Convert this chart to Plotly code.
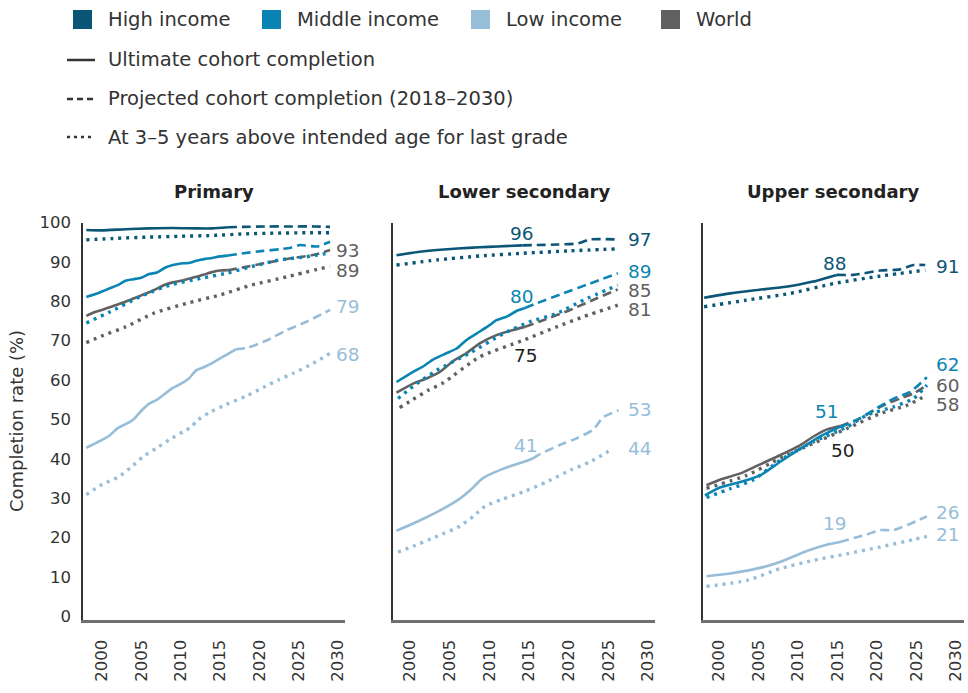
import plotly.graph_objects as go

W, H = 968, 693
FONT = "DejaVu Sans"

# ---------------- data ----------------
panels = ["Primary", "Lower secondary", "Upper secondary"]
groups = ["High income", "Middle income", "Low income", "World"]
colors = {"High income": "#0b5576", "Middle income": "#0a85b3",
          "Low income": "#97bdd9", "World": "#616161"}

# Primary
p_hi_solid_x = [1998, 2000, 2003, 2006, 2009, 2012, 2014, 2016]
p_hi_solid_y = [98.1, 98.0, 98.3, 98.5, 98.6, 98.5, 98.5, 98.8]
p_hi_dash_x = [2016, 2018, 2021, 2024, 2027, 2029]
p_hi_dash_y = [98.8, 98.9, 99.0, 99.0, 99.0, 98.9]
p_hi_dot_x = [1998, 2002, 2006, 2010, 2014, 2018, 2022, 2026, 2029]
p_hi_dot_y = [95.6, 96.0, 96.3, 96.5, 96.7, 97.1, 97.3, 97.4, 97.4]

p_mi_solid_x = [1998, 1999, 2000, 2001, 2002, 2003, 2004, 2005, 2006, 2007, 2008, 2009, 2010, 2011, 2012, 2013, 2014, 2015, 2016]
p_mi_solid_y = [81.1, 81.7, 82.5, 83.3, 84.1, 85.2, 85.6, 86.0, 86.9, 87.3, 88.5, 89.2, 89.6, 89.7, 90.3, 90.7, 91.0, 91.4, 91.6]
p_mi_dash_x = [2016, 2018, 2020.5, 2022.6, 2024, 2025.2, 2027.3, 2029]
p_mi_dash_y = [91.6, 92.2, 92.8, 93.2, 93.6, 94.3, 93.9, 95.1]
p_mi_dot_x = [1998, 2001, 2005, 2008.6, 2012.5, 2016, 2019, 2022.6, 2026, 2029]
p_mi_dot_y = [74.5, 77.3, 81.3, 84.1, 85.8, 87.2, 88.8, 90.5, 91.3, 92.3]

p_lo_solid_x = [1998, 1999, 2000, 2001, 2002, 2003, 2004, 2005, 2006, 2007, 2008, 2009, 2010, 2011, 2012, 2013, 2014, 2015, 2016, 2017]
p_lo_solid_y = [42.8, 43.8, 44.8, 46.0, 47.8, 48.8, 50.0, 52.2, 54.0, 55.0, 56.5, 58.0, 59.0, 60.3, 62.5, 63.3, 64.3, 65.5, 66.6, 67.8]
p_lo_dash_x = [2017, 2018.5, 2021, 2023.5, 2026, 2029]
p_lo_dash_y = [67.8, 68.2, 70.1, 72.7, 74.8, 77.8]
p_lo_dot_x = [1998, 2000, 2002, 2003.6, 2005.2, 2007, 2008.6, 2010.5, 2011.4, 2012, 2013.7, 2015.8, 2018.4, 2020.5, 2022.4, 2024.3, 2026.8, 2029]
p_lo_dot_y = [30.9, 33.5, 35.3, 37.7, 40.5, 42.8, 44.9, 47.1, 48.1, 49.6, 51.8, 53.8, 56.0, 58.1, 60.0, 61.7, 64.2, 66.8]

p_wo_solid_x = [1998, 1999, 2000, 2001, 2002, 2003, 2004, 2005, 2006, 2007, 2008, 2009, 2010, 2011, 2012, 2013, 2014, 2015, 2016]
p_wo_solid_y = [76.3, 77.2, 77.8, 78.5, 79.2, 79.9, 80.7, 81.5, 82.3, 83.2, 84.2, 84.8, 85.2, 85.7, 86.2, 86.8, 87.4, 87.8, 87.9]
p_wo_dash_x = [2016, 2018, 2021, 2024, 2027, 2029]
p_wo_dash_y = [87.9, 88.6, 89.8, 90.9, 91.8, 93.0]
p_wo_dot_x = [1998, 2000, 2003, 2006.5, 2010.8, 2015, 2019, 2023.5, 2029]
p_wo_dot_y = [69.5, 71.2, 73.5, 76.9, 79.5, 81.6, 84.1, 86.2, 88.9]

# Lower secondary
l_hi_solid_x = [1998.3, 2001, 2003.4, 2006, 2008.8, 2011, 2014.2]
l_hi_solid_y = [91.7, 92.5, 93.0, 93.4, 93.7, 93.9, 94.2]
l_hi_dash_x = [2014.2, 2018.5, 2021.2, 2022.7, 2026.2]
l_hi_dash_y = [94.2, 94.4, 94.7, 95.7, 95.7]
l_hi_dot_x = [1998.3, 2003.4, 2008.8, 2014.3, 2020.2, 2026]
l_hi_dot_y = [89.2, 90.5, 91.5, 92.2, 92.8, 93.3]

l_mi_solid_x = [1998.3, 2000.4, 2001.7, 2002.9, 2004.6, 2005.9, 2007.1, 2008.4, 2010.1, 2010.9, 2012.2, 2013.5, 2014.5]
l_mi_solid_y = [59.5, 62.1, 63.5, 65.2, 66.8, 68.0, 70.1, 71.8, 74.0, 75.2, 76.1, 77.6, 78.3]
l_mi_dash_x = [2014.5, 2016, 2019.3, 2022.7, 2026.2]
l_mi_dash_y = [78.3, 79.5, 82.0, 84.5, 87.1]
l_mi_dot_x = [1998.5, 2000.4, 2003.4, 2007.6, 2011.8, 2015.1, 2018.5, 2021.9, 2026.2]
l_mi_dot_y = [55.3, 58.4, 62.5, 66.9, 71.8, 74.8, 76.9, 80.3, 84.1]

l_lo_solid_x = [1998.3, 2001.3, 2003.8, 2006.3, 2007.6, 2009.2, 2011.8, 2014.3, 2015.5]
l_lo_solid_y = [21.7, 24.4, 26.9, 29.9, 32.0, 35.1, 37.5, 39.2, 40.1]
l_lo_dash_x = [2015.5, 2016.4, 2018.9, 2021, 2023.1, 2024.4, 2026.3]
l_lo_dash_y = [40.1, 41.2, 43.5, 45.2, 47.4, 50.6, 52.3]
l_lo_dot_x = [1998.5, 2000.4, 2003.4, 2006.3, 2008, 2009.5, 2011.6, 2014.3, 2017.2, 2020.2, 2022.7, 2025.6]
l_lo_dot_y = [16.3, 17.8, 20.3, 22.9, 25.4, 28.0, 29.7, 31.6, 34.1, 37.1, 39.2, 42.6]

l_wo_solid_x = [1998.3, 2000.4, 2002.1, 2003.8, 2005.5, 2007.1, 2008.8, 2010.9, 2013, 2014.5]
l_wo_solid_y = [56.8, 59.1, 60.4, 62.1, 64.9, 66.8, 69.3, 71.4, 72.7, 73.5]
l_wo_dash_x = [2014.5, 2016.8, 2020.2, 2023.5, 2026.2]
l_wo_dash_y = [73.5, 75.2, 77.8, 80.7, 83.0]
l_wo_dot_x = [1998.7, 2000.4, 2002.3, 2004.2, 2008.8, 2014.3, 2018.5, 2021.9, 2026.2]
l_wo_dot_y = [53.0, 55.1, 57.4, 59.3, 65.9, 70.1, 73.5, 76.1, 79.0]

# Upper secondary
u_hi_solid_x = [1998.1, 2001.4, 2004.5, 2007.7, 2010, 2011.9, 2014.9]
u_hi_solid_y = [80.9, 82.0, 82.8, 83.5, 84.2, 85.0, 86.7]
u_hi_dash_x = [2014.9, 2017, 2020.4, 2022.9, 2024.6, 2026.1]
u_hi_dash_y = [86.7, 86.7, 87.8, 88.1, 89.2, 89.2]
u_hi_dot_x = [1998.1, 2003.5, 2009, 2014.5, 2020.4, 2026.1]
u_hi_dot_y = [78.6, 80.3, 82.0, 84.5, 86.4, 87.9]

u_mi_solid_x = [1998.2, 2000.1, 2002.7, 2005.2, 2007.7, 2010.3, 2012.8, 2015.3]
u_mi_solid_y = [30.7, 32.7, 34.1, 35.8, 39.2, 42.6, 45.7, 48.1]
u_mi_dash_x = [2015.3, 2017, 2019.5, 2022.1, 2024.2, 2026.3]
u_mi_dash_y = [48.1, 49.4, 52.3, 55.3, 57.0, 60.7]
u_mi_dot_x = [1998.4, 2001.4, 2004.3, 2007.7, 2011.9, 2016.2, 2018.7, 2022.1, 2024.6, 2026.3]
u_mi_dot_y = [30.2, 32.4, 34.6, 39.6, 44.3, 48.1, 51.1, 53.2, 55.3, 58.7]

u_lo_solid_x = [1998.4, 2001.4, 2005.6, 2007.7, 2011.1, 2013.6, 2015.3]
u_lo_solid_y = [10.2, 10.9, 12.5, 13.8, 16.6, 18.2, 18.9]
u_lo_dash_x = [2015.3, 2018.7, 2020.4, 2022.1, 2026.3]
u_lo_dash_y = [18.9, 20.8, 21.9, 21.9, 25.4]
u_lo_dot_x = [1998.4, 2003.5, 2007.7, 2011.9, 2016.2, 2020.4, 2024.6, 2026.3]
u_lo_dot_y = [7.6, 9.1, 12.1, 14.2, 15.9, 17.6, 19.5, 20.3]

u_wo_solid_x = [1998.4, 2000.1, 2002.7, 2005.2, 2007.7, 2010.3, 2011.9, 2013.6, 2015.3]
u_wo_solid_y = [33.3, 34.7, 36.3, 38.6, 40.9, 43.5, 45.6, 47.4, 48.3]
u_wo_dash_x = [2015.3, 2017.8, 2020.4, 2022.9, 2024.6, 2026.3]
u_wo_dash_y = [48.3, 50.2, 53.2, 55.3, 56.6, 58.7]
u_wo_dot_x = [1998.4, 2003.5, 2007.7, 2011.9, 2016.2, 2020.4, 2023.8, 2026.3]
u_wo_dot_y = [32.5, 35.8, 40.1, 43.9, 47.7, 51.5, 53.6, 56.2]

# Value labels
label_panel = [0, 0, 0, 0,
               1, 1, 1, 1, 1, 1, 1, 1, 1, 1,
               2, 2, 2, 2, 2, 2, 2, 2, 2, 2]
label_text = ["93", "89", "79", "68",
              "96", "97", "80", "89", "75", "85", "81", "41", "53", "44",
              "88", "91", "51", "62", "50", "60", "58", "19", "26", "21"]
label_x = [2029.5, 2029.5, 2029.5, 2029.5,
           2014.1, 2027.2, 2014.1, 2027.2, 2014.6, 2027.2, 2027.2, 2014.6, 2027.2, 2027.2,
           2014.7, 2027.2, 2013.6, 2027.2, 2015.7, 2027.2, 2027.2, 2014.7, 2027.2, 2027.2]
label_y = [93.0, 87.9, 78.8, 66.4,
           97.3, 95.7, 81.3, 87.5, 66.3, 82.7, 77.8, 43.5, 52.5, 42.6,
           89.5, 88.8, 51.9, 64.0, 42.2, 58.6, 53.8, 23.6, 26.3, 20.8]
label_group = ["World", "World", "Low income", "Low income",
               "High income", "High income", "Middle income", "Middle income", "Dark", "World", "World",
               "Low income", "Low income", "Low income",
               "High income", "High income", "Middle income", "Middle income", "Dark", "World", "World",
               "Low income", "Low income", "Low income"]
label_anchor = ["left", "left", "left", "left",
                "center", "left", "center", "left", "center", "left", "left", "center", "left", "left",
                "center", "left", "center", "left", "center", "left", "left", "center", "left", "left"]

x_ticks = [2000, 2005, 2010, 2015, 2020, 2025, 2030]
y_ticks = [0, 10, 20, 30, 40, 50, 60, 70, 80, 90, 100]

series = {
    0: {"High income": (p_hi_solid_x, p_hi_solid_y, p_hi_dash_x, p_hi_dash_y, p_hi_dot_x, p_hi_dot_y),
        "Middle income": (p_mi_solid_x, p_mi_solid_y, p_mi_dash_x, p_mi_dash_y, p_mi_dot_x, p_mi_dot_y),
        "Low income": (p_lo_solid_x, p_lo_solid_y, p_lo_dash_x, p_lo_dash_y, p_lo_dot_x, p_lo_dot_y),
        "World": (p_wo_solid_x, p_wo_solid_y, p_wo_dash_x, p_wo_dash_y, p_wo_dot_x, p_wo_dot_y)},
    1: {"High income": (l_hi_solid_x, l_hi_solid_y, l_hi_dash_x, l_hi_dash_y, l_hi_dot_x, l_hi_dot_y),
        "Middle income": (l_mi_solid_x, l_mi_solid_y, l_mi_dash_x, l_mi_dash_y, l_mi_dot_x, l_mi_dot_y),
        "Low income": (l_lo_solid_x, l_lo_solid_y, l_lo_dash_x, l_lo_dash_y, l_lo_dot_x, l_lo_dot_y),
        "World": (l_wo_solid_x, l_wo_solid_y, l_wo_dash_x, l_wo_dash_y, l_wo_dot_x, l_wo_dot_y)},
    2: {"High income": (u_hi_solid_x, u_hi_solid_y, u_hi_dash_x, u_hi_dash_y, u_hi_dot_x, u_hi_dot_y),
        "Middle income": (u_mi_solid_x, u_mi_solid_y, u_mi_dash_x, u_mi_dash_y, u_mi_dot_x, u_mi_dot_y),
        "Low income": (u_lo_solid_x, u_lo_solid_y, u_lo_dash_x, u_lo_dash_y, u_lo_dot_x, u_lo_dot_y),
        "World": (u_wo_solid_x, u_wo_solid_y, u_wo_dash_x, u_wo_dash_y, u_wo_dot_x, u_wo_dot_y)},
}

# ---------------- layout geometry (pixels) ----------------
def px(x):
    return x / W

def py(y):
    return 1 - y / H

x_doms = [(83, 345), (392.5, 655), (702.5, 964)]
x_ranges = [(1997.58, 2030.9), (1997.8, 2030.9), (1997.9, 2031.0)]
y_top, y_bot = 222.5, 619.5

fig = go.Figure()
draw_order = ["World", "Low income", "Middle income", "High income"]
for p in range(3):
    ax = "" if p == 0 else str(p + 1)
    for g in draw_order:
        sx, sy, dx, dy, tx, ty = series[p][g]
        c = colors[g]
        common = dict(xaxis="x" + ax, yaxis="y" + ax, mode="lines", showlegend=False,
                      hoverinfo="skip")
        fig.add_trace(go.Scatter(x=tx, y=ty, line=dict(color=c, width=3.4, dash="3px,5px",
                                 shape="spline", smoothing=0.6), **common))
        fig.add_trace(go.Scatter(x=dx, y=dy, line=dict(color=c, width=2.6, dash="9px,5px",
                                 shape="spline", smoothing=0.6), **common))
        fig.add_trace(go.Scatter(x=sx, y=sy, line=dict(color=c, width=2.6,
                                 shape="spline", smoothing=0.6), **common))

layout = dict(
    template="none",
    width=W, height=H, margin=dict(l=0, r=0, t=0, b=0, pad=0),
    paper_bgcolor="white", plot_bgcolor="white",
    font=dict(family=FONT, color="#333333", size=17),
    showlegend=False,
)
for p in range(3):
    ax = "" if p == 0 else str(p + 1)
    layout["xaxis" + ax] = dict(
        domain=[px(x_doms[p][0]), px(x_doms[p][1])], range=list(x_ranges[p]),
        anchor="y" + ax, tickmode="array", tickvals=x_ticks,
        ticktext=[str(t) for t in x_ticks], tickangle=-90,
        showgrid=False, zeroline=False, showline=True, linecolor="#6e6e6e", linewidth=2.5,
        ticks="", ticklen=0, ticklabelstandoff=11, automargin=False,
        tickfont=dict(family=FONT, size=16.5, color="#333333"),
        fixedrange=True,
    )
    layout["yaxis" + ax] = dict(
        domain=[py(y_bot), py(y_top)], range=[-0.8, 100], anchor="x" + ax,
        tickmode="array", tickvals=y_ticks, showticklabels=(p == 0),
        showgrid=False, zeroline=False, showline=True, linecolor="#333333", linewidth=1.5,
        ticks="", ticklen=0, ticklabelstandoff=7, automargin=False,
        tickfont=dict(family=FONT, size=16.5, color="#333333"),
        fixedrange=True,
    )
layout["yaxis"]["title"] = dict(text="Completion rate (%)",
                                font=dict(family=FONT, size=18, color="#333333"),
                                standoff=11)
fig.update_layout(**layout)

annotations = []
for p, name in enumerate(panels):
    annotations.append(dict(text="<b>" + name + "</b>", xref="paper", yref="paper",
                            x=px((x_doms[p][0] + x_doms[p][1]) / 2), y=py(192),
                            xanchor="center", yanchor="middle", showarrow=False,
                            font=dict(family=FONT, size=18, color="#222222")))
for i in range(len(label_text)):
    p = label_panel[i]
    ax = "" if p == 0 else str(p + 1)
    g = label_group[i]
    col = "#222222" if g == "Dark" else colors[g]
    if g == "World":
        col = "#5e5e5e"
    annotations.append(dict(text=label_text[i], xref="x" + ax, yref="y" + ax,
                            x=label_x[i], y=label_y[i], xanchor=label_anchor[i],
                            yanchor="middle", showarrow=False,
                            font=dict(family=FONT, size=18.5, color=col)))

shapes = []
leg_sq_x = [73, 262, 471, 661]
for i, g in enumerate(groups):
    x0 = leg_sq_x[i]
    shapes.append(dict(type="rect", xref="paper", yref="paper",
                       x0=px(x0), x1=px(x0 + 19), y0=py(29), y1=py(10),
                       fillcolor=colors[g], line=dict(width=0)))
    annotations.append(dict(text=g, xref="paper", yref="paper", x=px(x0 + 33), y=py(19.5),
                            xanchor="left", yanchor="middle", showarrow=False,
                            font=dict(family=FONT, size=19.5, color="#333333")))
leg_styles = [("solid", "Ultimate cohort completion", 60),
              ("dash", "Projected cohort completion (2018–2030)", 99),
              ("dot", "At 3–5 years above intended age for last grade", 137)]
for style, text, yy in leg_styles:
    d = {"solid": "solid", "dash": "6px,4px", "dot": "3px,4px"}[style]
    shapes.append(dict(type="line", xref="paper", yref="paper", x0=px(67), x1=px(95),
                       y0=py(yy), y1=py(yy), line=dict(color="#333333", width=2.5, dash=d)))
    annotations.append(dict(text=text, xref="paper", yref="paper", x=px(106), y=py(yy),
                            xanchor="left", yanchor="middle", showarrow=False,
                            font=dict(family=FONT, size=19.5, color="#333333")))

fig.update_layout(annotations=annotations, shapes=shapes)
fig.write_html("out.html")
